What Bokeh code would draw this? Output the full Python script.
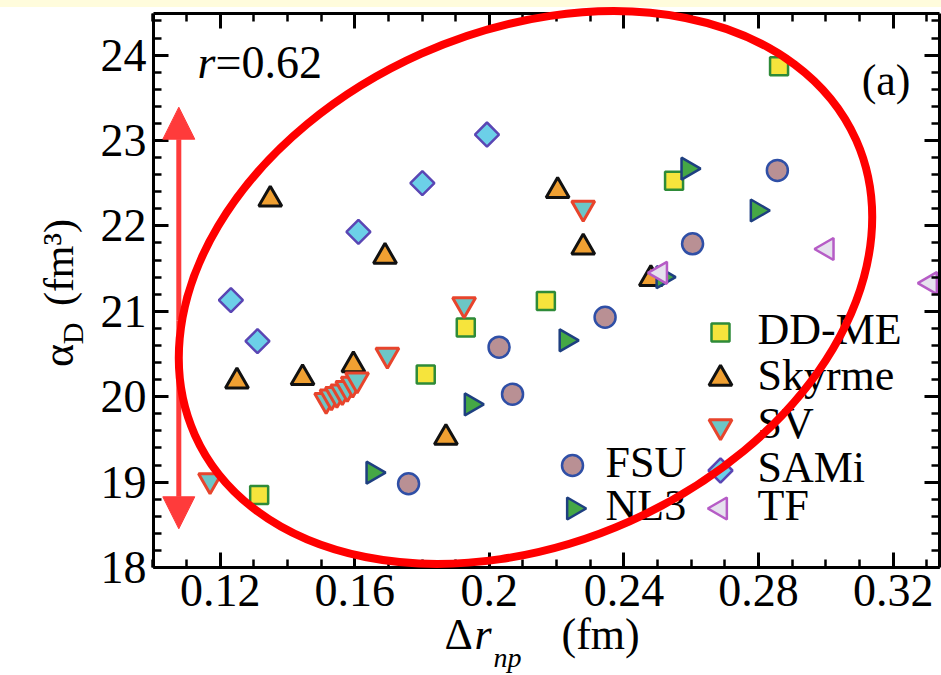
import math
from bokeh.plotting import figure
from bokeh.models import (Label, Arrow, NormalHead, LinearAxis, FixedTicker,
                          CustomJSTickFormatter, Range1d, Div)
from bokeh.layouts import column
from bokeh.embed import file_html
from bokeh.resources import INLINE

# ---------------- data ----------------
ddme_x = [0.2861, 0.2549, 0.2168, 0.1930, 0.1811, 0.1316]
ddme_y = [23.87, 22.53, 21.12, 20.81, 20.26, 18.85]

skyrme_x = [0.1349, 0.1690, 0.2203, 0.2279, 0.2480, 0.1250, 0.1445, 0.1596, 0.1871]
skyrme_y = [22.31, 21.64, 22.41, 21.75, 21.38, 20.18, 20.22, 20.37, 19.52]

sv_x = [0.2279, 0.1925, 0.1697, 0.1515, 0.1531, 0.1547, 0.1563, 0.1578, 0.1594, 0.1607, 0.1170]
sv_y = [22.21, 21.08, 20.49, 19.96, 20.00, 20.03, 20.06, 20.10, 20.15, 20.20, 19.02]

fsu_x = [0.2856, 0.2604, 0.2344, 0.2029, 0.2069, 0.1760]
fsu_y = [22.65, 21.79, 20.93, 20.58, 20.03, 18.98]

sami_x = [0.1993, 0.1801, 0.1611, 0.1232, 0.1311]
sami_y = [23.07, 22.50, 21.93, 21.13, 20.65]

nl3_x = [0.2590, 0.2796, 0.2516, 0.2228, 0.1946, 0.1654]
nl3_y = [22.67, 22.18, 21.40, 20.66, 19.91, 19.11]

tf_x = [0.3004, 0.3311, 0.2509]
tf_y = [21.73, 21.33, 21.45]

series_names = ["DD-ME", "Skyrme", "SV", "FSU", "SAMi", "NL3", "TF"]

x_major = [0.12, 0.16, 0.20, 0.24, 0.28, 0.32]
x_tick_labels = ["0.12", "0.16", "0.2", "0.24", "0.28", "0.32"]
x_minor = [0.10, 0.11, 0.13, 0.14, 0.15, 0.17, 0.18, 0.19, 0.21, 0.22, 0.23,
           0.25, 0.26, 0.27, 0.29, 0.30, 0.31, 0.33]
y_major = [18, 19, 20, 21, 22, 23, 24]
y_tick_labels = ["18", "19", "20", "21", "22", "23", "24"]
y_minor = [18 + 0.2 * i for i in range(0, 33)]

x_lo, y_lo, y_hi = 0.1002, 18.0, 24.487
correlation_text = "=0.62"
panel_text = "(a)"

# ---------------- page geometry (px) ----------------
BAND = 7                     # yellow strip on top of the page
FL, FR, FB = 153, 939, 567   # frame left / right / bottom on the page
PXX = 3365.0                 # px per unit of x
PXY = 85.4                   # px per unit of y
SERIF = "Liberation Serif"


def px2x(X):
    return x_lo + (X - FL) / PXX


def py2y(Y):
    return y_lo + (FB - Y) / PXY


x_hi = px2x(FR)

p = figure(width=941, height=675 - BAND, output_backend="svg", toolbar_location=None,
           x_range=Range1d(px2x(0), px2x(941)), y_range=Range1d(py2y(675), py2y(BAND)),
           x_axis_location=None, y_axis_location=None, min_border=0)
p.grid.visible = False
p.outline_line_color = None
p.background_fill_color = "white"
p.border_fill_color = "white"

xt = FixedTicker(ticks=x_major, minor_ticks=x_minor)
yt = FixedTicker(ticks=y_major, minor_ticks=y_minor)
blank = CustomJSTickFormatter(code="return ''")


def make_axis(ticker, loc, bounds, labels=None):
    ax = LinearAxis(ticker=ticker, fixed_location=loc, bounds=bounds)
    ax.axis_line_width = 3
    ax.axis_line_color = "black"
    ax.major_tick_in = 15
    ax.major_tick_out = 0
    ax.minor_tick_in = 8
    ax.minor_tick_out = 0
    ax.major_tick_line_width = 3
    ax.minor_tick_line_width = 2.5
    ax.major_tick_line_color = "black"
    ax.minor_tick_line_color = "black"
    ax.major_label_text_font = SERIF
    ax.major_label_text_color = "black"
    ax.major_label_standoff = 7
    if labels is None:
        ax.formatter = blank
        ax.major_label_text_font_size = "1px"
    else:
        ax.major_label_overrides = labels
        ax.major_label_text_font_size = "46px"
    return ax


p.add_layout(make_axis(xt, y_lo, (x_lo, x_hi), dict(zip(x_major, x_tick_labels))), "below")
p.add_layout(make_axis(yt, x_lo, (y_lo, y_hi), dict(zip(y_major, y_tick_labels))), "left")
p.add_layout(make_axis(xt, y_hi, (x_lo, x_hi)), "above")
p.add_layout(make_axis(yt, x_hi, (y_lo, y_hi)), "right")

# ---------------- marker styles ----------------
styles = {
    "DD-ME": dict(marker="square", size=18, fill_color="#f6e43c", line_color="#2e8b38", line_width=2.5),
    "Skyrme": dict(marker="triangle", size=23, fill_color="#f0a032", line_color="#111111", line_width=3),
    "SV": dict(marker="inverted_triangle", size=23, fill_color="#6cc6c6", line_color="#e8442c", line_width=3),
    "FSU": dict(marker="circle", size=21, fill_color="#b99094", line_color="#2f4fa6", line_width=2.5),
    "SAMi": dict(marker="square", angle=math.pi / 4, size=17, fill_color="#6cd0e8", line_color="#5a46b4", line_width=2.5),
    "NL3": dict(marker="triangle", angle=-math.pi / 2, size=22, fill_color="#45a845", line_color="#1e3f80", line_width=2.5),
    "TF": dict(marker="triangle", angle=math.pi / 2, size=22, fill_color="#e6e2ee", line_color="#b65cc6", line_width=2.5),
}

series = {
    "DD-ME": (ddme_x, ddme_y),
    "Skyrme": (skyrme_x, skyrme_y),
    "SV": (sv_x, sv_y),
    "FSU": (fsu_x, fsu_y),
    "SAMi": (sami_x, sami_y),
    "NL3": (nl3_x, nl3_y),
    "TF": (tf_x, tf_y),
}
for name in series_names:
    xs, ys = series[name]
    p.scatter(xs, ys, **styles[name])

# ---------------- legend (swatch + label), page positions ----------------
legend_pos = {
    "DD-ME": (720, 332, 757),
    "Skyrme": (720, 378, 757),
    "SV": (720, 426, 757),
    "SAMi": (720, 470, 757),
    "TF": (720, 508, 757),
    "FSU": (572, 465, 605),
    "NL3": (573, 508, 605),
}
for name in series_names:
    mx, my, tx = legend_pos[name]
    p.scatter([px2x(mx)], [py2y(my)], **styles[name])
    p.add_layout(Label(x=px2x(tx), y=py2y(my - 3), text=name, text_font=SERIF,
                       text_font_size="44px", text_align="left",
                       text_baseline="middle", text_color="black"))

# ---------------- annotations ----------------
ell = p.ellipse(x=[px2x(525)], y=[py2y(287)], width=[724], height=[512], angle=[0.419],
                width_units="screen", height_units="screen", fill_color=None,
                line_color="#ff0000", line_width=8)
ell.level = "overlay"

arrow_color = "#ff3b3b"
ax_x = px2x(178.3)
mid_y = py2y(320)
for tip in (py2y(106.7), py2y(528.3)):
    p.add_layout(Arrow(x_start=ax_x, y_start=mid_y, x_end=ax_x, y_end=tip,
                       line_color=arrow_color, line_width=5,
                       end=NormalHead(size=32, fill_color=arrow_color, line_color=arrow_color)))


def lab(text, X, Y, size, style="normal", align="center", baseline="middle", angle=0.0):
    p.add_layout(Label(x=px2x(X), y=py2y(Y), text=text,
                       text_font=SERIF, text_font_size=size, text_font_style=style,
                       text_align=align, text_baseline=baseline, angle=angle,
                       text_color="black"))


lab("r", 197, 62, "46px", "italic", "left")
lab(correlation_text, 215, 62, "46px", "normal", "left")
lab(panel_text, 910, 80, "44px", "normal", "right")

# x axis title: Δr_np (fm)
lab("Δ", 444, 634, "44px", align="left")
lab("r", 474, 634, "44px", "italic", align="left")
lab("np", 493, 657, "28px", "italic", align="left")
lab("(fm)", 561, 634, "44px", align="left")

# y axis title: α_D (fm³)
up = math.pi / 2
lab("α", 58, 355, "44px", angle=up)
lab("D", 72, 333, "30px", angle=up)
lab("(fm³)", 58, 262, "42px", angle=up)

band = Div(text="", width=941, height=BAND, margin=0,
           styles={"background-color": "#fffcdc"})
layout = column(band, p, spacing=0, margin=0)

open("out.html", "w").write(file_html(layout, INLINE))
